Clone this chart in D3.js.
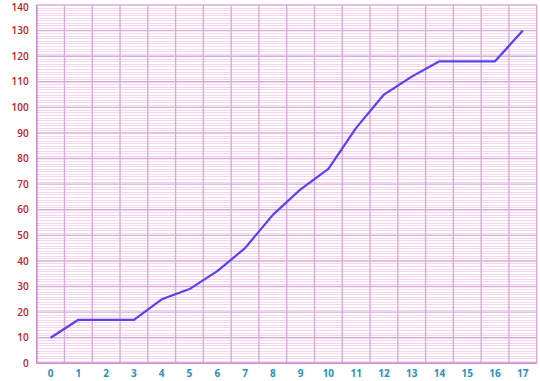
<!DOCTYPE html>
<html>
<head>
<meta charset="utf-8">
<script src="https://cdn.jsdelivr.net/npm/d3@7"></script>
<style>
  html, body { margin: 0; padding: 0; background: #fff; }
  svg { display: block; }
</style>
</head>
<body>
<svg id="chart" width="540" height="381"></svg>
<script>
// Category labels along the bottom axis
const categories = ["0","1","2","3","4","5","6","7","8","9","10","11","12","13","14","15","16","17"];
// Series values, one per category
const values = [10, 17, 17, 17, 25, 29, 36, 45, 58, 68, 76, 92, 105, 112, 118, 118, 118, 130];
// Value-axis tick labels
const yTicks = [0, 10, 20, 30, 40, 50, 60, 70, 80, 90, 100, 110, 120, 130, 140];
// Minor gridline steps
const yMinor = d3.range(0, 141, 1);

const svg = d3.select("#chart");
const margin = { left: 36.7, right: 3.3, top: 5, bottom: 17.7 };
const W = 540, H = 381;
const innerW = W - margin.left - margin.right;
const innerH = H - margin.top - margin.bottom;

const x = d3.scaleBand().domain(categories).range([0, innerW]).paddingInner(0).paddingOuter(0);
const y = d3.scaleLinear().domain([0, 140]).range([innerH, 0]);

const g = svg.append("g").attr("transform", `translate(${margin.left},${margin.top})`);

// Minor horizontal gridlines
g.append("g")
  .selectAll("line")
  .data(yMinor.filter(v => v % 10 !== 0))
  .join("line")
  .attr("x1", 0).attr("x2", innerW)
  .attr("y1", d => Math.round(y(d)) + 0.5).attr("y2", d => Math.round(y(d)) + 0.5)
  .attr("stroke", "#f4d6ee").attr("stroke-width", 1);

// Major horizontal gridlines
g.append("g")
  .selectAll("line")
  .data(yTicks)
  .join("line")
  .attr("x1", 0).attr("x2", innerW)
  .attr("y1", d => y(d)).attr("y2", d => y(d))
  .attr("stroke", "#d8acd8").attr("stroke-width", 1.4);

// Vertical gridlines at category boundaries
const bounds = categories.map(c => x(c)).concat([innerW]);
g.append("g")
  .selectAll("line")
  .data(bounds)
  .join("line")
  .attr("x1", d => d).attr("x2", d => d)
  .attr("y1", 0).attr("y2", innerH)
  .attr("stroke", "#d8acd8").attr("stroke-width", 1.4);

// Left and bottom axis lines
g.append("line").attr("x1", 0).attr("x2", 0).attr("y1", 0).attr("y2", innerH)
  .attr("stroke", "#c890c8").attr("stroke-width", 1.5);
g.append("line").attr("x1", 0).attr("x2", innerW).attr("y1", innerH).attr("y2", innerH)
  .attr("stroke", "#c890c8").attr("stroke-width", 1.5);

// Y axis labels
const yAxis = d3.axisLeft(y).tickValues(yTicks).tickSize(0).tickPadding(8);
const ya = g.append("g").call(yAxis);
ya.select(".domain").remove();
ya.selectAll("text")
  .attr("fill", "#c0202a")
  .attr("font-family", "'Open Sans', sans-serif")
  .attr("font-weight", "600")
  .attr("font-size", "10px");
// keep the top label inside the page
ya.selectAll(".tick").filter(d => d === 140).select("text").attr("dy", "0.5em");

// X axis labels
const xAxis = d3.axisBottom(x).tickSize(0).tickPadding(7);
const xa = g.append("g").attr("transform", `translate(0,${innerH})`).call(xAxis);
xa.select(".domain").remove();
xa.selectAll("text")
  .attr("fill", "#2b8fc0")
  .attr("font-family", "'Open Sans', sans-serif")
  .attr("font-weight", "700")
  .attr("font-size", "10px");

// Data line
const line = d3.line()
  .x((d, i) => x(categories[i]) + x.bandwidth() / 2)
  .y(d => y(d));
g.append("path")
  .datum(values)
  .attr("d", line)
  .attr("fill", "none")
  .attr("stroke", "#5a40f2")
  .attr("stroke-width", 2.2)
  .attr("stroke-linejoin", "round");
</script>
</body>
</html>
